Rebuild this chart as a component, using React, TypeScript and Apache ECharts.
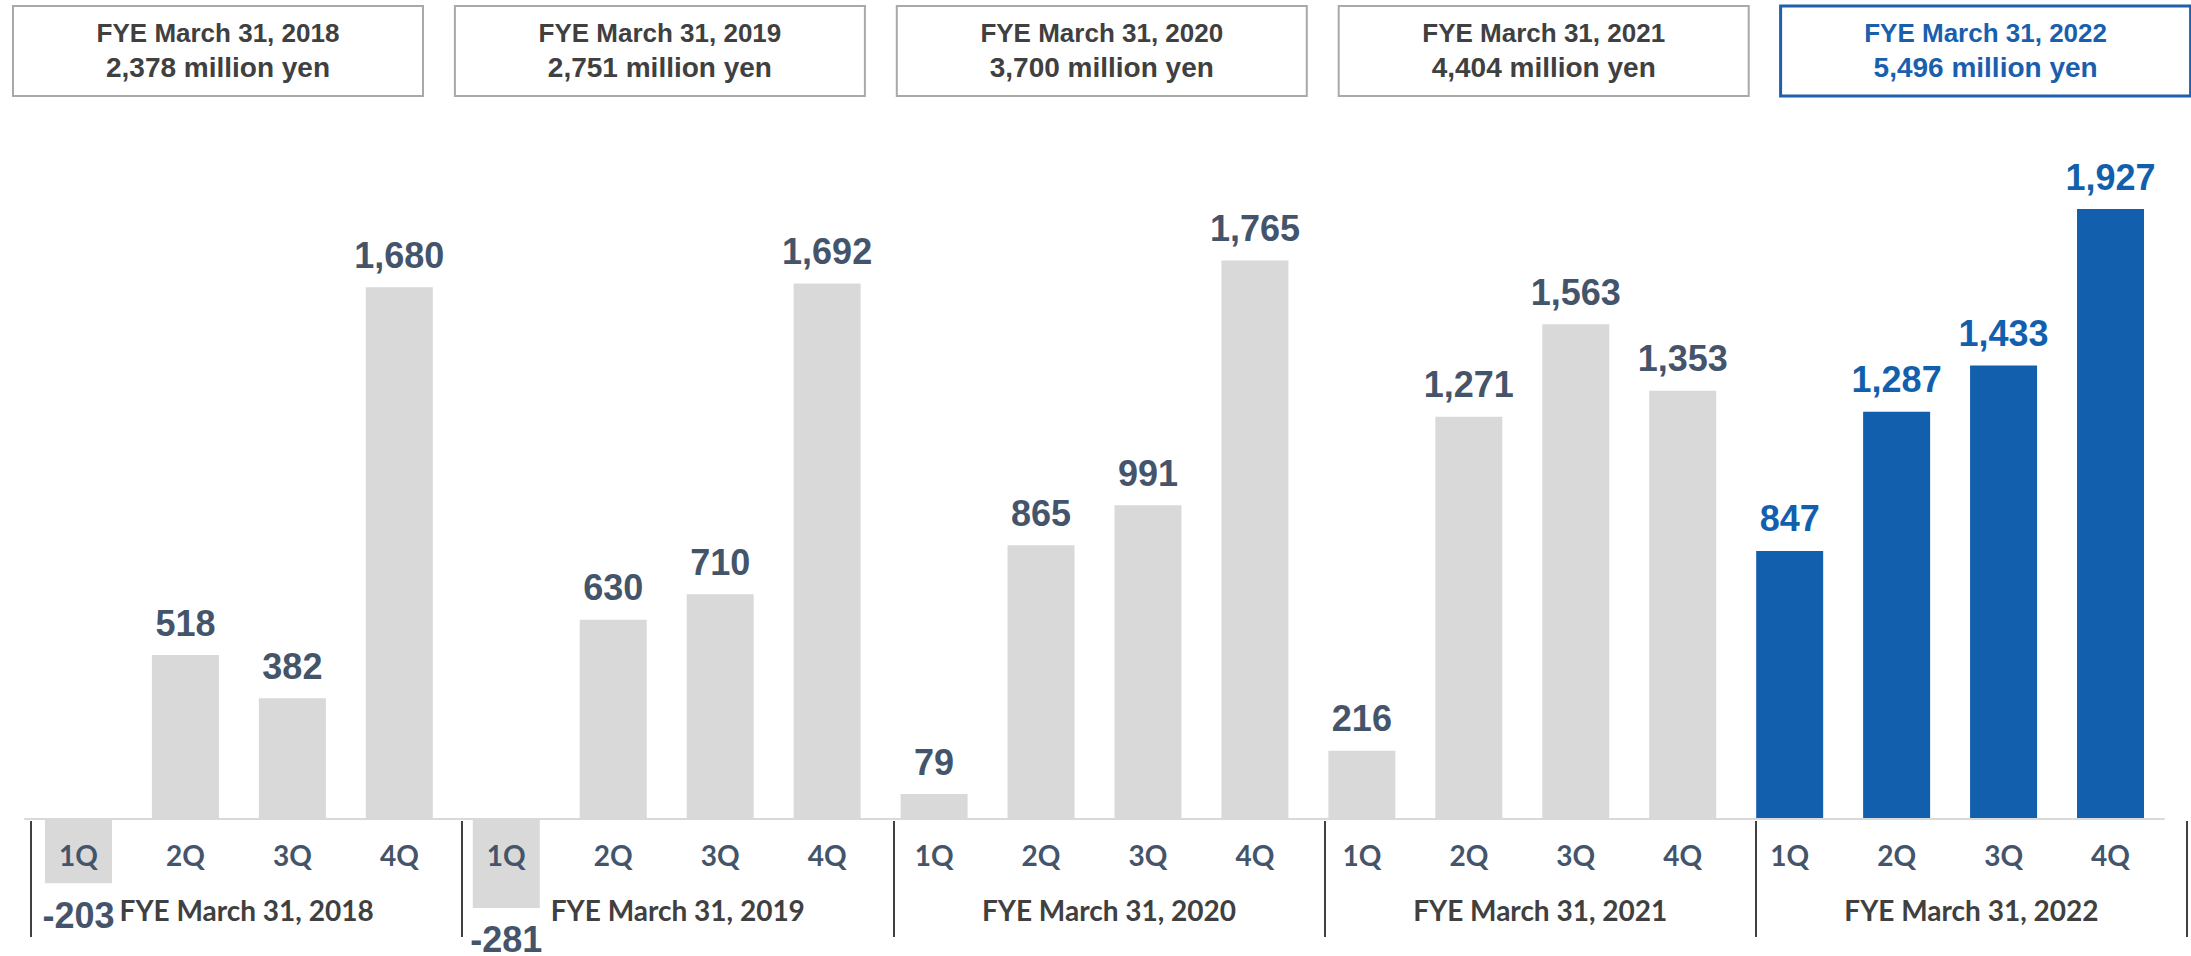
import React, { useEffect, useRef } from "react";
import * as echarts from "echarts";

const quarters = ["1Q", "2Q", "3Q", "4Q"];
const fiscalYears = [
  "FYE March 31, 2018",
  "FYE March 31, 2019",
  "FYE March 31, 2020",
  "FYE March 31, 2021",
  "FYE March 31, 2022",
];
const annualTotals = [2378, 2751, 3700, 4404, 5496];
const q2018 = [-203, 518, 382, 1680];
const q2019 = [-281, 630, 710, 1692];
const q2020 = [79, 865, 991, 1765];
const q2021 = [216, 1271, 1563, 1353];
const q2022 = [847, 1287, 1433, 1927];
const yearValues = [q2018, q2019, q2020, q2021, q2022];
const highlightIndex = 4;

const GRAY = "#d9d9d9";
const BLUE = "#125fae";
const LABEL = "#44546a";
const DARK = "#404040";
const fmt = (v: number) => v.toLocaleString("en-US");

export default function App() {
  const ref = useRef<HTMLDivElement>(null);
  useEffect(() => {
    if (!ref.current) return;
    const chart = echarts.init(ref.current, null, { renderer: "svg" });

    const categories = fiscalYears.flatMap((_, yi) => quarters.map((q) => `${yi}|${q}`));
    const data = yearValues.flatMap((vals, yi) =>
      vals.map((v) => {
        const hl = yi === highlightIndex;
        return {
          value: v,
          itemStyle: { color: hl ? BLUE : GRAY },
          label: { position: v < 0 ? "bottom" : "top", color: hl ? BLUE : LABEL },
        };
      })
    );

    const boxW = 410;
    const boxH = 90;
    const boxStep = 441.9;
    const boxes: any[] = [];
    fiscalYears.forEach((fy, i) => {
      const hl = i === highlightIndex;
      const x0 = 13 + i * boxStep;
      boxes.push({
        type: "rect",
        shape: { x: x0, y: 6, width: boxW, height: boxH },
        style: { fill: "#fff", stroke: hl ? "#1f5fae" : "#a9a9a9", lineWidth: hl ? 3 : 2 },
      });
      boxes.push({
        type: "text",
        x: x0 + boxW / 2,
        y: 33,
        style: {
          text: fy,
          fill: hl ? "#1a5fae" : DARK,
          fontSize: 26,
          fontWeight: "bold",
          fontFamily: "Liberation Sans, Arial, sans-serif",
          align: "center",
          verticalAlign: "middle",
        },
      });
      boxes.push({
        type: "text",
        x: x0 + boxW / 2,
        y: 67,
        style: {
          text: `${fmt(annualTotals[i])} million yen`,
          fill: hl ? "#1a5fae" : DARK,
          fontSize: 28,
          fontWeight: "bold",
          fontFamily: "Liberation Sans, Arial, sans-serif",
          align: "center",
          verticalAlign: "middle",
        },
      });
    });

    chart.setOption({
      animation: false,
      grid: [
        { left: 25, right: 27, top: 186, bottom: 42 },
        { left: 31, right: 4, top: 800, height: 21 },
      ],
      xAxis: [
        {
          type: "category",
          gridIndex: 0,
          data: categories,
          z: 5,
          offset: -95,
          axisLine: { show: true, onZero: false, lineStyle: { color: GRAY, width: 2 } },
          axisTick: { show: false },
          axisLabel: {
            margin: 22,
            color: LABEL,
            fontSize: 28,
            fontWeight: "bold",
            fontFamily: "Lato, Open Sans, sans-serif",
            formatter: (v: string) => v.split("|")[1],
          },
        },
        {
          type: "category",
          gridIndex: 1,
          data: fiscalYears,
          boundaryGap: true,
          axisLine: { show: false, onZero: false },
          axisTick: { show: true, length: 116, lineStyle: { color: DARK, width: 2 } },
          axisLabel: {
            margin: 75,
            color: DARK,
            fontSize: 28,
            fontWeight: "bold",
            fontFamily: "Lato, Open Sans, sans-serif",
          },
        },
      ],
      yAxis: [
        { type: "value", gridIndex: 0, min: -300, max: 2000, show: false },
        { type: "value", gridIndex: 1, min: 0, max: 1, show: false },
      ],
      series: [
        {
          type: "bar",
          xAxisIndex: 0,
          yAxisIndex: 0,
          barWidth: 67,
          data,
          label: {
            show: true,
            distance: 14,
            fontSize: 36,
            fontWeight: "bold",
            fontFamily: "Liberation Sans, Arial, sans-serif",
            formatter: (p: any) => fmt(p.value),
          },
        },
      ],
      graphic: boxes,
    });
    return () => chart.dispose();
  }, []);
  return (
    <div
      ref={ref}
      style={{ position: "fixed", left: 0, top: 0, width: 2191, height: 956, background: "#fff" }}
    />
  );
}
